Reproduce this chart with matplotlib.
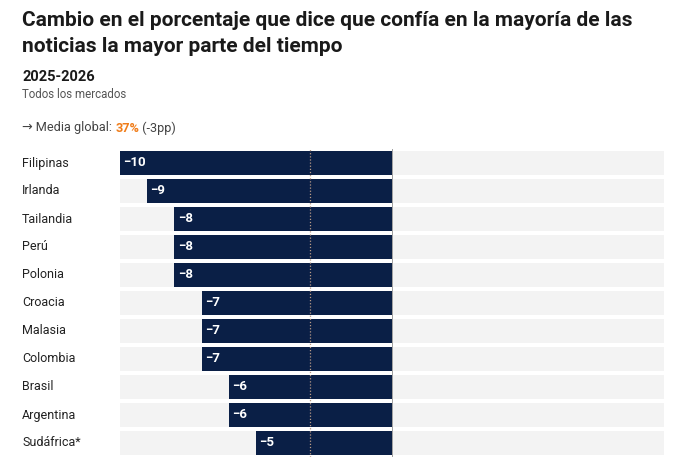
import matplotlib
matplotlib.use("Agg")
import matplotlib.pyplot as plt

countries = ["Filipinas", "Irlanda", "Tailandia", "Perú", "Polonia", "Croacia",
             "Malasia", "Colombia", "Brasil", "Argentina", "Sudáfrica*"]
changes = [-10, -9, -8, -8, -8, -7, -7, -7, -6, -6, -5]
global_avg_change = -3
global_avg = 37

plt.rcParams['font.family'] = ['Roboto', 'DejaVu Sans']

navy = '#0a1f46'
grey_bg = '#f3f3f3'
orange = '#f07d1a'

fig = plt.figure(figsize=(6.8, 4.59), dpi=100)
fig.patch.set_facecolor('white')

ax = fig.add_axes([120/680, 1 - 457/459, 544/680, 308/459])
y = list(range(len(countries)))
h = 0.86
ax.barh(y, [20]*len(y), left=-10, height=h, color=grey_bg, zorder=1)
ax.barh(y, changes, height=h, color=navy, zorder=2)
ax.axvline(0, color='#a0a0a0', lw=0.7, zorder=3)
ax.axvline(global_avg_change, color='#b89a86', lw=0.9, ls=(0, (1, 1.5)), zorder=4)

for yi, v in zip(y, changes):
    ax.text(v + 0.12, yi, f"\u2212{abs(v)}", color='white', fontsize=9.5,
            fontweight='bold', va='center', ha='left', zorder=5)

ax.set_xlim(-10, 10)
ax.set_ylim(len(y) - 0.5, -0.5)
ax.axis('off')

for yi, c in zip(y, countries):
    fig.text(22/680, 1 - (163 + 28*yi)/459, c, fontsize=9, color='#222222',
             va='center', ha='left')

fig.text(22/680, 1 - 20/459, "Cambio en el porcentaje que dice que confía en la mayoría de las",
         fontsize=15, fontweight='bold', color='#1a1a1a', va='center', ha='left')
fig.text(22/680, 1 - 47/459, "noticias la mayor parte del tiempo",
         fontsize=15, fontweight='bold', color='#1a1a1a', va='center', ha='left')
fig.text(22/680, 1 - 77/459, "2025-2026", fontsize=10.5, fontweight='bold',
         color='#1a1a1a', va='center', ha='left')
fig.text(22/680, 1 - 94/459, "Todos los mercados", fontsize=8.3,
         color='#555555', va='center', ha='left')

# Global average line
t1 = fig.text(22/680, 1 - 128/459, "\u2192 Media global: ", fontsize=9.2,
              color='#444444', va='center', ha='left')
fig.canvas.draw()
r = fig.canvas.get_renderer()
bb = t1.get_window_extent(renderer=r)
x2 = bb.x1 / fig.bbox.width
t2 = fig.text(x2, 1 - 128/459, f"{global_avg}%", fontsize=9.2, fontweight='bold',
              color=orange, va='center', ha='left')
bb2 = t2.get_window_extent(renderer=r)
x3 = bb2.x1 / fig.bbox.width
fig.text(x3, 1 - 128/459, f" ({global_avg_change}pp)", fontsize=9.2,
         color='#444444', va='center', ha='left')

fig.savefig("out.png", dpi=100)
